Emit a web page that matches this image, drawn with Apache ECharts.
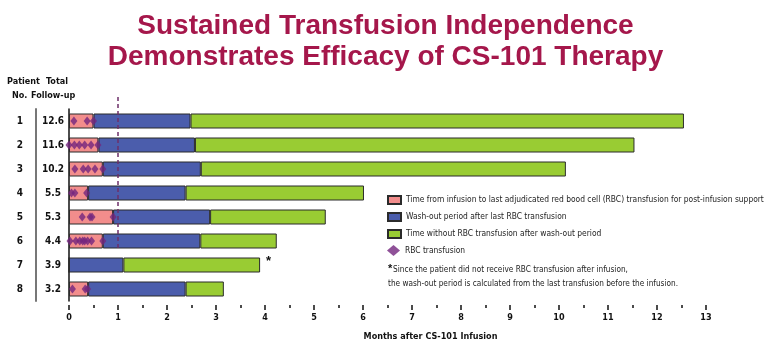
<!DOCTYPE html>
<html>
<head>
<meta charset="utf-8">
<script src="https://cdn.jsdelivr.net/npm/echarts@6/dist/echarts.min.js"></script>
<style>
  html, body { margin: 0; padding: 0; background: #fff; }
  #main { width: 771px; height: 352px; }
</style>
</head>
<body>
<div id="main"></div>
<script>
// patients and total follow-up (months)
const patients = ['1', '2', '3', '4', '5', '6', '7', '8'];
const followUp = ['12.6', '11.6', '10.2', '5.5', '5.3', '4.4', '3.9', '3.2'];

// segment lengths in months
const toLastRbc = [0.5, 0.6, 0.69, 0.39, 0.9, 0.69, 0, 0.39];
const washOut = [1.98, 1.97, 2.0, 1.99, 1.98, 1.99, 1.11, 1.99];
const noRbc = [10.07, 8.97, 7.45, 3.64, 2.36, 1.56, 2.79, 0.78];

// RBC transfusion times per patient (months)
const rbcTimes = [
  [0.1, 0.37, 0.5],
  [0.0, 0.11, 0.21, 0.32, 0.45, 0.59],
  [0.12, 0.29, 0.39, 0.53, 0.69],
  [0.05, 0.12, 0.36],
  [0.27, 0.43, 0.47, 0.9],
  [0.02, 0.14, 0.22, 0.28, 0.32, 0.38, 0.46, 0.69],
  [],
  [0.07, 0.33, 0.38]
];

const xTicks = { min: 0, max: 13, interval: 1 };
const cutoffMonth = 1;

const NARROW = '"Liberation Sans Narrow", "Arial Narrow", "DejaVu Sans Condensed", sans-serif';
const SANS = '"Liberation Sans", Arial, sans-serif';

const names = [
  'Time from infusion to last adjudicated red bood cell (RBC) transfusion for post-infusion support',
  'Wash-out period after last RBC transfusion',
  'Time without RBC transfusion after wash-out period',
  'RBC transfusion'
];

const diamonds = [];
rbcTimes.forEach((arr, i) => arr.forEach(t => diamonds.push([t, i])));

const barBase = {
  type: 'bar',
  stack: 'total',
  barWidth: 15,
  itemStyle: { borderColor: '#2b2b2b', borderWidth: 1 }
};

const chart = echarts.init(document.getElementById('main'));
const option = {
  animation: false,
  textStyle: { fontFamily: SANS },
  title: {
    text: 'Sustained Transfusion Independence\nDemonstrates Efficacy of CS-101 Therapy',
    left: 'center',
    top: 6,
    textStyle: {
      fontFamily: SANS,
      fontSize: 28,
      fontWeight: 'bold',
      color: '#A5174B',
      lineHeight: 31
    }
  },
  legend: [
    {
      data: names.slice(0, 3),
      orient: 'vertical',
      left: 382,
      top: 190,
      itemWidth: 13,
      itemHeight: 8,
      itemGap: 7,
      icon: 'rect',
      selectedMode: false,
      textStyle: { fontFamily: NARROW, fontSize: 8.4, color: '#222' }
    },
    {
      data: [names[3]],
      orient: 'vertical',
      left: 382,
      top: 240,
      itemWidth: 13,
      itemHeight: 11,
      icon: 'diamond',
      selectedMode: false,
      textStyle: { fontFamily: NARROW, fontSize: 8.4, color: '#222' }
    }
  ],
  grid: { left: 69, right: 65, top: 109, bottom: 51 },
  xAxis: {
    type: 'value',
    min: xTicks.min,
    max: xTicks.max,
    interval: xTicks.interval,
    offset: 4,
    name: 'Months after CS-101 Infusion',
    nameLocation: 'middle',
    nameGap: 27,
    nameTextStyle: { fontFamily: NARROW, fontSize: 9, fontWeight: 'bold', color: '#111', padding: [0, 0, 0, 86] },
    axisLine: { lineStyle: { color: '#111', width: 1.5 } },
    axisTick: { show: true, length: 5, lineStyle: { color: '#111', width: 1.5 } },
    minorTick: { show: true, splitNumber: 2, length: 3, lineStyle: { color: '#111', width: 1.5 } },
    axisLabel: { fontFamily: NARROW, fontSize: 9, fontWeight: 'bold', color: '#111', margin: 8 },
    splitLine: { show: false }
  },
  yAxis: [
    {
      type: 'category',
      data: patients,
      inverse: true,
      axisLine: { lineStyle: { color: '#111', width: 1.5 } },
      axisTick: { show: false },
      axisLabel: {
        fontFamily: NARROW,
        fontSize: 10,
        fontWeight: 'bold',
        color: '#111',
        align: 'center',
        margin: 16,
        formatter: (v, i) => followUp[i]
      }
    },
    {
      type: 'category',
      data: patients,
      inverse: true,
      position: 'left',
      offset: 33,
      axisLine: { lineStyle: { color: '#777', width: 2 } },
      axisTick: { show: false },
      axisLabel: {
        fontFamily: NARROW,
        fontSize: 10,
        fontWeight: 'bold',
        color: '#111',
        align: 'center',
        margin: 16
      }
    }
  ],
  series: [
    Object.assign({}, barBase, {
      name: names[0],
      data: toLastRbc,
      itemStyle: Object.assign({}, barBase.itemStyle, { color: '#F28D8C' })
    }),
    Object.assign({}, barBase, {
      name: names[1],
      data: washOut,
      itemStyle: Object.assign({}, barBase.itemStyle, { color: '#4B5DAC' })
    }),
    Object.assign({}, barBase, {
      name: names[2],
      data: noRbc.map((v, i) => i === 6
        ? { value: v, label: { show: true, position: 'right', formatter: '*', offset: [1, -4], fontSize: 13, fontWeight: 'bold', color: '#111' } }
        : v),
      itemStyle: Object.assign({}, barBase.itemStyle, { color: '#99CC33' })
    }),
    {
      name: names[3],
      type: 'scatter',
      data: diamonds,
      symbol: 'diamond',
      symbolSize: [7, 9],
      z: 5,
      itemStyle: { color: '#73267E' }
    }
  ],
  graphic: [
    { type: 'text', left: 7, top: 77, style: { text: 'Patient', font: 'bold 9px ' + NARROW, fill: '#111' } },
    { type: 'text', left: 46, top: 77, style: { text: 'Total', font: 'bold 9px ' + NARROW, fill: '#111' } },
    { type: 'text', left: 12, top: 91, style: { text: 'No.', font: 'bold 9px ' + NARROW, fill: '#111' } },
    { type: 'text', left: 31, top: 91, style: { text: 'Follow-up', font: 'bold 9px ' + NARROW, fill: '#111' } },
    { type: 'text', left: 388, top: 263, style: { text: '*', font: 'bold 11px ' + SANS, fill: '#111' } },
    { type: 'text', left: 393, top: 266, style: { text: 'Since the patient did not receive RBC transfusion after infusion,', font: '8.2px ' + NARROW, fill: '#222' } },
    { type: 'text', left: 388, top: 280, style: { text: 'the wash-out period is calculated from the last transfusion before the infusion.', font: '8.2px ' + NARROW, fill: '#222' } }
  ]
};
chart.setOption(option);

// dashed reference line at 1 month, from the top of the plot down past patient 6
const px = chart.convertToPixel({ xAxisIndex: 0 }, cutoffMonth);
const yEnd = chart.convertToPixel({ yAxisIndex: 0 }, patients[5]) + 10;
chart.setOption({
  graphic: option.graphic.concat([{
    type: 'line',
    z: 10,
    shape: { x1: px, y1: 97, x2: px, y2: yEnd },
    style: { stroke: '#6e2f6a', lineWidth: 1.5, lineDash: [4, 3] }
  }])
});
</script>
</body>
</html>
